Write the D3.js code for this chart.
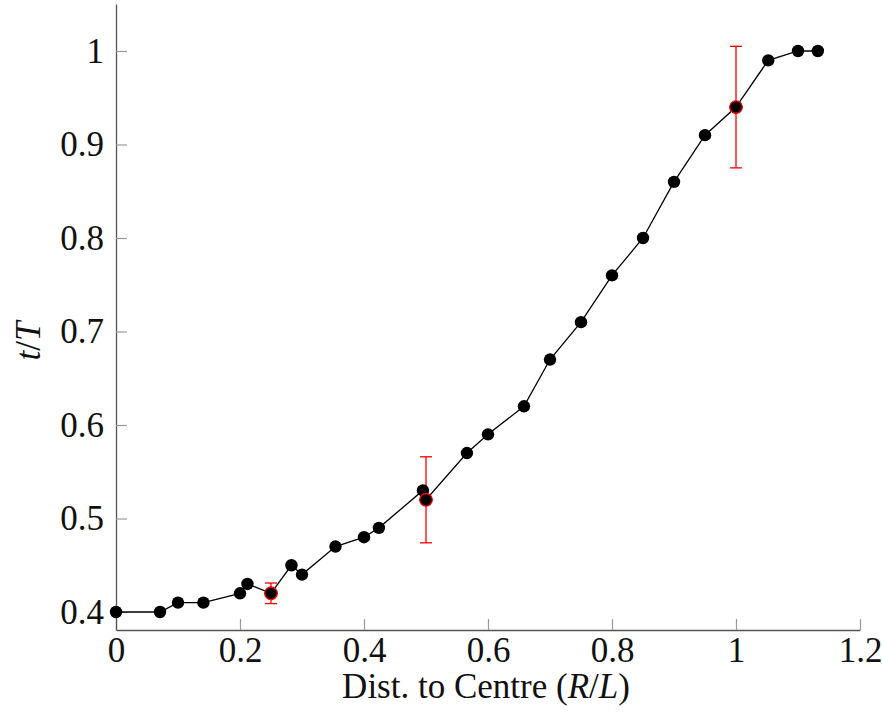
<!DOCTYPE html>
<html>
<head>
<meta charset="utf-8">
<script src="https://cdn.jsdelivr.net/npm/d3@7"></script>
<style>
  body { margin: 0; background: #fff; }
  text { font-family: "Liberation Serif", "DejaVu Serif", serif; }
</style>
</head>
<body>
<svg id="chart" width="882" height="715"></svg>
<script>
// measured points along the line
const distR = [0, 0.071, 0.1, 0.141, 0.2, 0.212, 0.25, 0.283, 0.3, 0.354, 0.4, 0.424,
  0.495, 0.5, 0.566, 0.6, 0.658, 0.7, 0.75, 0.8, 0.85, 0.9, 0.95, 1.0, 1.052, 1.1, 1.132];
const timeT = [0.40, 0.40, 0.41, 0.41, 0.42, 0.43, 0.42, 0.45, 0.44, 0.47, 0.48, 0.49,
  0.53, 0.52, 0.57, 0.59, 0.62, 0.67, 0.71, 0.76, 0.80, 0.86, 0.91, 0.94, 0.99, 1.0, 1.0];

// points with error bars
const errX = [0.25, 0.5, 1.0];
const errY = [0.42, 0.52, 0.94];
const errSize = [0.011, 0.046, 0.065];

const xTicks = [0, 0.2, 0.4, 0.6, 0.8, 1, 1.2];
const yTicks = [0.4, 0.5, 0.6, 0.7, 0.8, 0.9, 1];

const fontSize = 35;
const svg = d3.select("#chart");

const x = d3.scaleLinear().domain([0, 1.2]).range([116, 860]);
const y = d3.scaleLinear().domain([0.4, 1]).range([612, 51]);
const yAxisScale = d3.scaleLinear().domain([y.invert(630), y.invert(4)]).range([630, 4]);

// axes, ticks pointing inward
const xAxis = svg.append("g")
    .attr("transform", "translate(0,630)")
    .call(d3.axisBottom(x).tickValues(xTicks).tickSize(-11).tickSizeOuter(0)
        .tickPadding(7).tickFormat(d => d3.format("~g")(d)));

const yAxis = svg.append("g")
    .attr("transform", "translate(116,0)")
    .call(d3.axisLeft(yAxisScale).tickValues(yTicks).tickSize(-11).tickSizeOuter(0)
        .tickPadding(12).tickFormat(d => d3.format("~g")(d)));

[xAxis, yAxis].forEach(g => {
    g.select(".domain").attr("stroke", "#555").attr("stroke-width", 1.3);
    g.selectAll(".tick line").attr("stroke", "#999").attr("stroke-width", 1.2);
    g.selectAll(".tick text").attr("font-size", fontSize).attr("fill", "#111")
        .attr("font-family", "Liberation Serif, serif");
});

const pts = distR.map((d, i) => ({ x: d, y: timeT[i] }));

svg.append("path")
    .datum(pts)
    .attr("fill", "none")
    .attr("stroke", "#000")
    .attr("stroke-width", 1.3)
    .attr("d", d3.line().x(d => x(d.x)).y(d => y(d.y)));

// error bars
const errData = errX.map((d, i) => ({ x: d, y: errY[i], e: errSize[i] }));
const eb = svg.append("g").attr("stroke", "#f00").attr("stroke-width", 1.3);
errData.forEach(d => {
    eb.append("line")
        .attr("x1", x(d.x)).attr("x2", x(d.x))
        .attr("y1", y(d.y - d.e)).attr("y2", y(d.y + d.e));
    [d.y - d.e, d.y + d.e].forEach(v => {
        eb.append("line")
            .attr("x1", x(d.x) - 6).attr("x2", x(d.x) + 6)
            .attr("y1", y(v)).attr("y2", y(v));
    });
});

svg.append("g")
    .selectAll("circle")
    .data(pts)
    .enter()
    .append("circle")
    .attr("cx", d => x(d.x))
    .attr("cy", d => y(d.y))
    .attr("r", 6.2)
    .attr("fill", "#000");

svg.append("g")
    .selectAll("circle")
    .data(errData)
    .enter()
    .append("circle")
    .attr("cx", d => x(d.x))
    .attr("cy", d => y(d.y))
    .attr("r", 6.3)
    .attr("fill", "#000")
    .attr("stroke", "#f00")
    .attr("stroke-width", 1.3);

// axis titles
const xt = svg.append("text")
    .attr("x", 486).attr("y", 698)
    .attr("text-anchor", "middle")
    .attr("font-size", fontSize)
    .attr("fill", "#111");
xt.append("tspan").text("Dist. to Centre (");
xt.append("tspan").attr("font-style", "italic").text("R");
xt.append("tspan").text("/");
xt.append("tspan").attr("font-style", "italic").text("L");
xt.append("tspan").text(")");

const yt = svg.append("text")
    .attr("transform", "translate(40,341) rotate(-90)")
    .attr("text-anchor", "middle")
    .attr("font-size", fontSize)
    .attr("fill", "#111");
yt.append("tspan").attr("font-style", "italic").text("t");
yt.append("tspan").text("/");
yt.append("tspan").attr("font-style", "italic").text("T");
</script>
</body>
</html>
